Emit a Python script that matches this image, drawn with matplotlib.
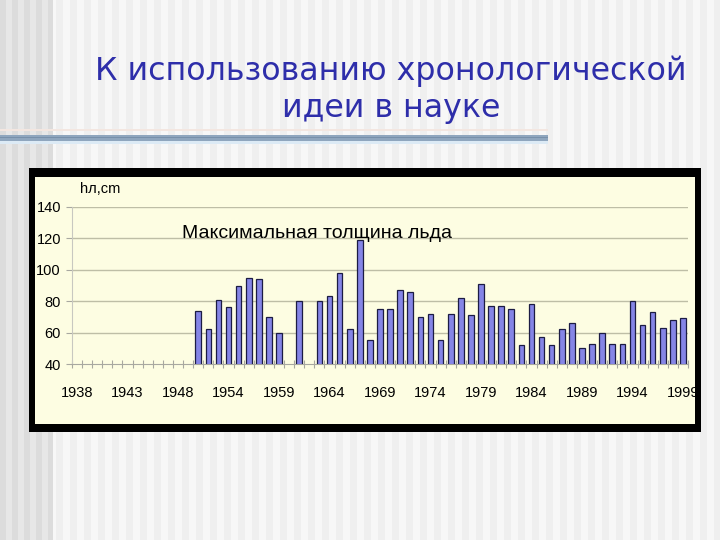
import numpy as np
import matplotlib
matplotlib.use("Agg")
import matplotlib.pyplot as plt
from matplotlib.patches import Rectangle

# ---- data ----
years = list(range(1938, 1949)) + list(range(1950, 2000))
ice_cm = [None] * 12 + [
    74, 62, 81, 76, 90, 95, 94, 70, 60, None,
    80, None, 80, 83, 98, 62, 119, 55, 75, 75,
    87, 86, 70, 72, 55, 72, 82, 71, 91, 77,
    77, 75, 52, 78, 57, 52, 62, 66, 50, 53,
    60, 53, 53, 80, 65, 73, 63, 68, 69]
y_ticks = [40, 60, 80, 100, 120, 140]
title_lines = ["К использованию хронологической", "идеи в науке"]
chart_title = "Максимальная толщина льда"
y_unit = "hл,cm"

W, H = 720, 540
fig = plt.figure(figsize=(W / 100, H / 100), dpi=100)
NARROW = ["Liberation Sans", "DejaVu Sans"]


def px(x0, y0, w, h):
    """pixel box (top-left origin) -> figure fraction rect"""
    return [x0 / W, 1 - (y0 + h) / H, w / W, h / H]


# ---- slide background with vertical stripes ----
bg = fig.add_axes([0, 0, 1, 1], zorder=-10)
row = np.zeros(W)
for x in range(W):
    if x < 53:
        row[x] = 0.86 if (x // 6) % 2 == 0 else 0.905
    else:
        row[x] = 0.935 if (x // 7) % 2 == 0 else 0.965
bg.imshow(np.tile(row, (H, 1)), cmap="gray", vmin=0, vmax=1,
          aspect="auto", extent=[0, W, H, 0], interpolation="nearest")
bg.set_xlim(0, W)
bg.set_ylim(H, 0)
bg.axis("off")
# underline below title
bg.add_patch(Rectangle((0, 129), 548, 1.5, color="#F3E6E0", lw=0))
bg.add_patch(Rectangle((0, 134.5), 548, 6.5, color="#8FA6BE", lw=0))
bg.add_patch(Rectangle((0, 136.5), 548, 1.5, color="#7890AA", lw=0))
bg.add_patch(Rectangle((0, 141), 548, 2.5, color="#DCEAF5", lw=0))
# chart area: black frame + pale yellow fill
bg.add_patch(Rectangle((29, 168), 672, 264, color="black", lw=0))
bg.add_patch(Rectangle((35, 177), 660, 247, color="#FDFDE2", lw=0))

# slide title
for line, base in zip(title_lines, [80, 117]):
    fig.text(391 / W, 1 - base / H, line, ha="center", va="baseline",
             fontsize=22.8, color="#2E2EAA", family="DejaVu Sans")

# ---- chart ----
ax = fig.add_axes(px(72, 207, 616, 157), zorder=1)
ax.patch.set_alpha(0)
xs = np.arange(len(years))
vals = np.array([np.nan if v is None else v for v in ice_cm], dtype=float)
ax.bar(xs, vals, width=0.56, color="#8585E6", edgecolor="#1C1C44",
       linewidth=0.9, zorder=3)
ax.set_xlim(-0.5, len(years) - 0.5)
ax.set_ylim(40, 140)

ax.set_yticks(y_ticks)
ax.set_yticklabels([str(t) for t in y_ticks], family=NARROW, fontsize=10.5)
for t in y_ticks[1:]:
    ax.axhline(t, color="#BEBEA6", lw=1, zorder=1)

major = xs[::5]
ax.set_xticks(major)
ax.set_xticklabels([str(years[i]) for i in major], family=NARROW,
                   fontsize=10.5)
ax.set_xticks(np.arange(-0.5, len(years)), minor=True)
ax.tick_params(axis="x", which="major", length=0, pad=16)
ax.tick_params(axis="x", which="minor", length=6, direction="inout",
               color="#A8A8A0", width=0.8)
ax.tick_params(axis="y", length=4, direction="out", color="#A8A8A0",
               width=0.8, pad=4)

for s in ["top", "right"]:
    ax.spines[s].set_visible(False)
ax.spines["left"].set_color("#C8C8C0")
ax.spines["bottom"].set_color("#A8A8A0")
ax.spines["left"].set_linewidth(0.8)
ax.spines["bottom"].set_linewidth(0.8)

fig.text(317 / W, 1 - 238 / H, chart_title, ha="center", va="baseline",
         fontsize=14, family=NARROW, color="black", zorder=4)
fig.text(80 / W, 1 - 193 / H, y_unit, ha="left", va="baseline",
         fontsize=10.5, family=NARROW, color="black", zorder=4)

# right black band drawn over the clipped last label
fg = fig.add_axes([0, 0, 1, 1], zorder=5)
fg.patch.set_alpha(0)
fg.set_xlim(0, W)
fg.set_ylim(H, 0)
fg.axis("off")
fg.add_patch(Rectangle((695, 168), 6, 264, color="black", lw=0))

fig.savefig("out.png", dpi=100)
